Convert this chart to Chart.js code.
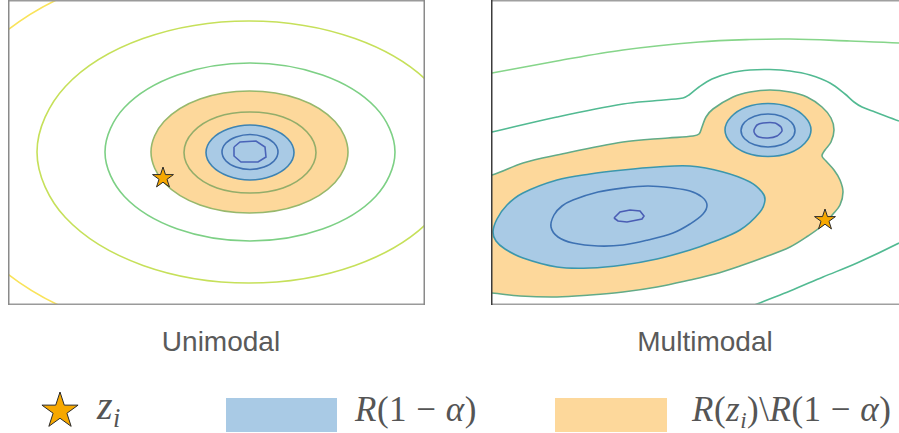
<!DOCTYPE html>
<html lang="en">
<head>
  <meta charset="UTF-8">
  <title>Unimodal vs Multimodal regions</title>
  <script src="https://cdn.jsdelivr.net/npm/chart.js"></script>
  <style>
    body {
      margin: 0;
      width: 899px;
      height: 433px;
      position: relative;
      overflow: hidden;
      background: #fff;
      font-family: "Liberation Sans", Arial, sans-serif;
    }
    canvas { position: absolute; }
    #uni { left: 8px; top: 0; }
    #multi { left: 491px; top: 0; }
    .caption {
      position: absolute;
      top: 328px;
      width: 300px;
      text-align: center;
      font-size: 28px;
      line-height: 1;
      color: #5a5a5a;
    }
    .math {
      position: absolute;
      font-family: "Liberation Serif", "DejaVu Serif", serif;
      font-size: 35px;
      line-height: 1;
      color: #555;
      white-space: nowrap;
      letter-spacing: 0.5px;
    }
    .math .sub { font-size: 0.66em; position: relative; top: 0.3em; font-style: italic; }
    .swatch { position: absolute; }
  </style>
</head>
<body>
  <canvas id="uni" width="417" height="305"></canvas>
  <canvas id="multi" width="408" height="305"></canvas>

  <div class="caption" style="left:71px">Unimodal</div>
  <div class="caption" style="left:555px">Multimodal</div>

  <div class="math" style="left:97px; top:386px; font-size:40px"><i>z</i><span class="sub">i</span></div>
  <div class="swatch" style="left:226px; top:398px; width:111px; height:34px; background:#a9cae5"></div>
  <div class="math" style="left:355px; top:392px"><i>R</i>(1 &minus; <i>α</i>)</div>
  <div class="swatch" style="left:555px; top:398px; width:112px; height:34px; background:#fdd89b"></div>
  <div class="math" style="left:692px; top:392px"><i>R</i>(<i>z</i><span class="sub">i</span>)\<i>R</i>(1 &minus; <i>α</i>)</div>

  <script>
    // contour points, in page pixels [x, y]
    // --- unimodal panel ---
    const uniInner  = [[234,147],[240,142],[256,141],[265,147],[266,157],[258,162],[241,162],[234,156]];
    const uniLevel2 = [[278,152],[274,143],[264,137],[250,134.5],[236,137],[226,143],[222,152],[226,161],[236,167],[250,169.5],[264,167],[274,161]];
    const uniBlue   = [[294,152.5],[288,139],[272,129],[250,125],[228,129],[212,139],[206,152.5],[212,166],[228,176],[250,180],[272,176],[288,166]];
    const uniLevel4 = [[316,152.5],[307,132],[283,117],[250,112],[217,117],[193,132],[184,152.5],[193,173],[217,188],[250,193],[283,188],[307,173]];
    const uniOrange = [[348,152],[335,121.5],[299,99],[249.5,91],[200,99],[164,121.5],[151,152],[164,182.5],[200,205],[249.5,213],[299,205],[335,182.5]];
    const uniLevel6 = [[395,152],[375.6,107.5],[322.5,75],[250,63],[177.5,75],[124.4,107.5],[105,152],[124.4,196.5],[177.5,229],[250,241],[322.5,229],[375.6,196.5]];
    const uniLevel7 = [[461,152],[432.6,86.5],[355,38.6],[249,21],[143,38.6],[65.4,86.5],[37,152],[65.4,217.5],[143,265.4],[249,283],[355,265.4],[432.6,217.5]];
    const uniLevel8 = [[559,152],[517.5,55],[404,-16],[249,-42],[94,-16],[-19.5,55],[-61,152],[-19.5,249],[94,320],[249,346],[404,320],[517.5,249]];
    const uniStar   = [[163,178]];

    // --- multimodal panel ---
    const multiOuter  = [[470,77],[492,73],[557,61],[623,50],[699,42],[750,39.5],[790,39],[850,41],[899,43],[930,46]];
    const multiLevel2 = [[470,137],[492,132],[557,117],[623,104],[657,100.5],[683,98],[689,95],[699,87],[712,79],[730,73],[750,70],[770,69.5],[790,71],[810,75],[830,83],[845,94],[854,102],[862,107],[875,112],[899,121],[930,134]];
    const multiLevel2b = [[740,312],[757,304],[790,291],[823,277],[857,263],[899,243],[930,226]];
    const multiOrange = [[470,178],[492,175],[523,163],[557,155],[623,142],[668,138],[693,136],[699,134],[702,127],[706,117],[713,109],[733,97],[750,92],[770,90],[790,92],[807,97],[822,107],[831,118],[834,130],[831,142],[825,150],[822,156],[826,161],[834,170],[840,180],[843,192],[840,205],[833,214],[823,225],[808,236],[790,247],[765,257],[740,266],[715,274],[690,280],[657,287],[623,292],[590,295],[557,297],[520,296],[492,293],[470,292]];
    const multiBlue   = [[493,232],[497,219],[507,205],[523,193],[557,180],[590,174],[623,170],[657,167],[690,166],[723,172],[750,182],[762,192],[765,200],[760,212],[740,230],[710,243],[690,250],[657,259],[623,265],[590,268],[557,267],[523,258],[505,249],[496,241]];
    const multiLevel3 = [[551,227],[554,215],[562,206],[573,200],[598,192],[623,188],[648,186],[673,188],[690,191],[702,197],[707,205],[703,214],[690,224],[673,233],[648,240],[623,245],[598,246],[573,243],[558,237]];
    const multiInner  = [[614,218],[620,212],[630,210],[640,211],[644,216],[642,219],[627,222],[618,221]];
    const multiSmallBlue   = [[811,130],[805,117],[789.5,107],[768,103.5],[746.5,107],[731,117],[725,130],[731,143],[746.5,153],[768,156.5],[789.5,153],[805,143]];
    const multiSmallLevel3 = [[795,130.5],[791.4,122.3],[781.5,116.2],[768,114],[754.5,116.2],[744.6,122.3],[741,130.5],[744.6,138.8],[754.5,144.8],[768,147],[781.5,144.8],[791.4,138.8]];
    const multiSmallInner  = [[754,130],[757,125],[763,123],[775,123],[781,127],[782,131],[777,136],[768,138],[759,137],[755,134]];
    const multiStar   = [[825,220]];

    const BLUE_FILL = '#a9cae5';
    const ORANGE_FILL = '#fdd89b';

    function starImage(r) {
      const c = document.createElement('canvas');
      const s = Math.ceil(2 * r + 4);
      c.width = s; c.height = s;
      const g = c.getContext('2d');
      g.beginPath();
      for (let k = 0; k < 10; k++) {
        const rad = k % 2 ? r * 0.382 : r;
        const a = -Math.PI / 2 + k * Math.PI / 5;
        g.lineTo(s / 2 + rad * Math.cos(a), s / 2 + rad * Math.sin(a));
      }
      g.closePath();
      g.fillStyle = '#f7a800';
      g.fill();
      g.lineWidth = 1;
      g.strokeStyle = '#2a2a2a';
      g.stroke();
      return c;
    }

    const toXY = pts => pts.map(p => ({x: p[0], y: p[1]}));

    // closed contour: wrap the ends so the spline joins smoothly, hide the wrap segments
    function contour(points, color, extra) {
      const pts = toXY(points);
      const n = pts.length;
      const data = [pts[n - 1], ...pts, pts[0], pts[1]];
      const last = data.length - 1;
      return Object.assign({
        data: data,
        borderColor: color,
        borderWidth: 1.6,
        tension: 0.35,
        fill: false,
        pointRadius: 0,
        segment: {
          borderColor: c => (c.p0DataIndex === 0 || c.p1DataIndex === last) ? 'rgba(0,0,0,0)' : undefined
        }
      }, extra || {});
    }

    function openCurve(points, color) {
      return {data: toXY(points), borderColor: color, borderWidth: 1.6, tension: 0.35, fill: false, pointRadius: 0};
    }

    function starSet(points) {
      return {data: toXY(points), showLine: false, pointStyle: starImage(11), pointRadius: 11};
    }

    const framePlugin = {
      id: 'frame',
      afterDraw(chart, args, opts) {
        const {ctx, chartArea: a} = chart;
        const w = 1.5, h = w / 2;
        const sides = {
          top: [a.left, a.top + h, a.right, a.top + h],
          bottom: [a.left, a.bottom - h, a.right, a.bottom - h],
          left: [a.left + h, a.top, a.left + h, a.bottom],
          right: [a.right - h, a.top, a.right - h, a.bottom]
        };
        ctx.save();
        ctx.lineWidth = w;
        for (const k in sides) {
          if (!opts[k]) continue;
          const s = sides[k];
          ctx.strokeStyle = opts[k];
          ctx.beginPath();
          ctx.moveTo(s[0], s[1]);
          ctx.lineTo(s[2], s[3]);
          ctx.stroke();
        }
        ctx.restore();
      }
    };

    function makeChart(id, datasets, xMin, xMax, frame) {
      // datasets listed bottom to top
      datasets.forEach((d, i) => { d.order = datasets.length - i; });
      return new Chart(document.getElementById(id), {
        type: 'line',
        data: {datasets: datasets},
        options: {
          responsive: false,
          animation: false,
          events: [],
          layout: {padding: 0, autoPadding: false},
          elements: {line: {capBezierPoints: false}},
          scales: {
            x: {type: 'linear', min: xMin, max: xMax, display: false},
            y: {type: 'linear', min: 0, max: 305, reverse: true, display: false}
          },
          plugins: {
            legend: {display: false},
            tooltip: {enabled: false},
            frame: frame
          }
        },
        plugins: [framePlugin]
      });
    }

    makeChart('uni', [
      contour(uniOrange, '#97b86c', {fill: 'shape', backgroundColor: ORANGE_FILL}),
      contour(uniBlue, '#3d83b3', {fill: 'shape', backgroundColor: BLUE_FILL}),
      contour(uniLevel4, '#93ad6a'),
      contour(uniLevel2, '#3f70b2'),
      contour(uniInner, '#4a64b8', {tension: 0}),
      contour(uniLevel6, '#7dd085'),
      contour(uniLevel7, '#c6e05a'),
      contour(uniLevel8, '#f9e35a'),
      starSet(uniStar)
    ], 8, 425, {top: '#9a9a9a', bottom: '#9a9a9a', left: '#8a8a8a', right: '#8a8a8a'});

    makeChart('multi', [
      openCurve(multiOuter, '#86d58a'),
      openCurve(multiLevel2, '#52ba92'),
      openCurve(multiLevel2b, '#52ba92'),
      contour(multiOrange, '#62ab88', {fill: 'shape', backgroundColor: ORANGE_FILL}),
      contour(multiBlue, '#3b97ad', {fill: 'shape', backgroundColor: BLUE_FILL}),
      contour(multiLevel3, '#3e72b3'),
      contour(multiInner, '#4a5db4', {tension: 0}),
      contour(multiSmallBlue, '#3b90b0', {fill: 'shape', backgroundColor: BLUE_FILL}),
      contour(multiSmallLevel3, '#3e72b3'),
      contour(multiSmallInner, '#4a60b5', {tension: 0.2}),
      starSet(multiStar)
    ], 491, 899, {top: '#a0a0a0', bottom: '#a0a0a0', left: '#3c3c3c'});

    // legend star glyph
    const legendStar = starImage(19);
    legendStar.style.left = (60 - legendStar.width / 2) + 'px';
    legendStar.style.top = (411 - legendStar.height / 2) + 'px';
    document.body.appendChild(legendStar);
  </script>
</body>
</html>
